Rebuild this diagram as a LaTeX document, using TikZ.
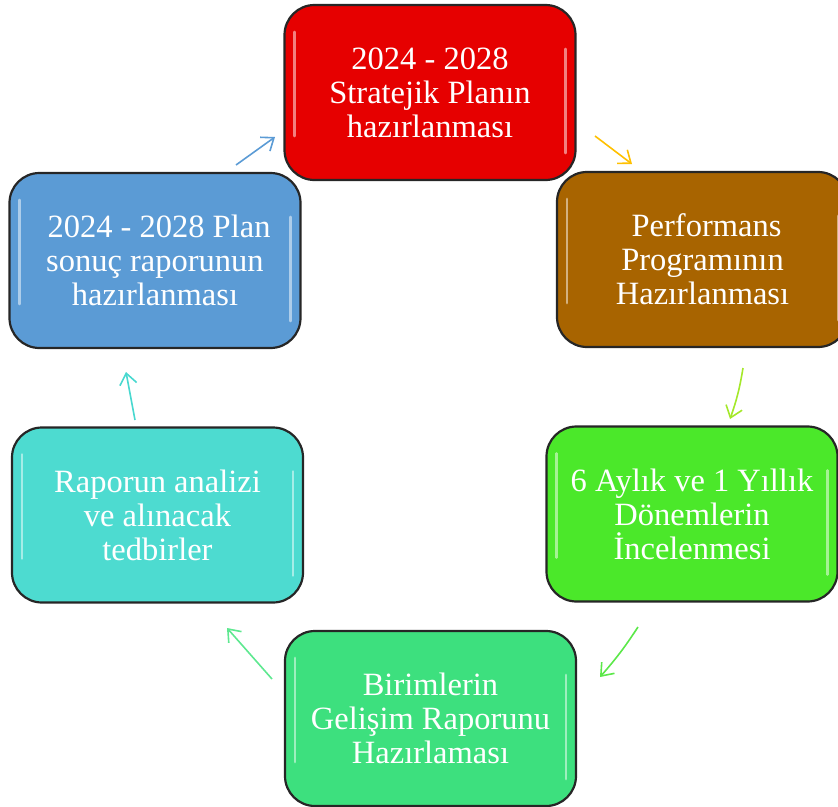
\documentclass[tikz,border=0pt]{standalone}
\usepackage{fontspec}
\setmainfont{Liberation Serif}
\usetikzlibrary{arrows.meta}
\definecolor{cred}{HTML}{E60000}
\definecolor{cbrown}{HTML}{A86400}
\definecolor{cgreen}{HTML}{4BE82A}
\definecolor{cmint}{HTML}{3DE07E}
\definecolor{ccyan}{HTML}{4DDBD0}
\definecolor{cblue}{HTML}{5B9BD5}
\definecolor{aorange}{HTML}{FFC000}
\definecolor{aygreen}{HTML}{A4E82A}
\definecolor{agreen}{HTML}{5CE84A}
\definecolor{amint}{HTML}{5EE890}
\definecolor{acyan}{HTML}{48D8CF}
\tikzset{
  box/.style={draw=black!85, line width=2.2pt, rounded corners=30pt,
    minimum width=291pt, minimum height=175pt, text=white, align=center,
    font=\fontsize{32.5}{34}\selectfont, inner sep=0pt},
  flow/.style={line width=1.6pt, -{Straight Barb[length=11pt,width=17pt,line width=1.6pt]}},
  gloss/.style={white, line width=2.5pt, line cap=round, opacity=0.5}
}
\newcommand{\glossbox}[1]{%
  \draw[gloss] ([xshift=11pt,yshift=-28pt]#1.north west) -- ([xshift=11pt,yshift=45pt]#1.south west);
  \draw[gloss] ([xshift=-11pt,yshift=-45pt]#1.north east) -- ([xshift=-11pt,yshift=28pt]#1.south east);
}
\begin{document}
\begin{tikzpicture}[x=1pt,y=-1pt]
\useasboundingbox (0,0) rectangle (838,806);
\begin{scope}
\clip (0,0) rectangle (838,806);
\node[box, fill=cred]   (s1) at (430,92.5)  {2024 - 2028\\Stratejik Planın\\hazırlanması};
\node[box, fill=cbrown] (s2) at (702.5,259.5) {\ Performans\\Programının\\Hazırlanması};
\node[box, fill=cgreen] (s3) at (692,514)   {6 Aylık ve 1 Yıllık\\Dönemlerin\\İncelenmesi};
\node[box, fill=cmint]  (s4) at (430.5,718.5) {Birimlerin\\Gelişim Raporunu\\Hazırlaması};
\node[box, fill=ccyan]  (s5) at (157.5,515)  {Raporun analizi\\ve alınacak\\tedbirler};
\node[box, fill=cblue]  (s6) at (155,260.5)  {\ 2024 - 2028 Plan\\sonuç raporunun\\hazırlanması};
\glossbox{s1}\glossbox{s2}\glossbox{s3}\glossbox{s4}\glossbox{s5}\glossbox{s6}
\end{scope}
\coordinate (a1s) at (236,165); \coordinate (a1e) at (275,137);
\coordinate (a2s) at (595,136); \coordinate (a2e) at (632,164);
\coordinate (a3s) at (743,368); \coordinate (a3e) at (730,419);
\coordinate (a4s) at (638,627); \coordinate (a4e) at (600,677);
\coordinate (a5s) at (272,679); \coordinate (a5e) at (227,628);
\coordinate (a6s) at (135,420); \coordinate (a6e) at (126,372);
\draw[flow, cblue]   (a1s) -- (a1e);
\draw[flow, aorange] (a2s) -- (a2e);
\draw[flow, aygreen] (a3s) to[bend left=5] (a3e);
\draw[flow, agreen]  (a4s) to[bend left=4] (a4e);
\draw[flow, amint]   (a5s) -- (a5e);
\draw[flow, acyan]   (a6s) -- (a6e);
\end{tikzpicture}
\end{document}
